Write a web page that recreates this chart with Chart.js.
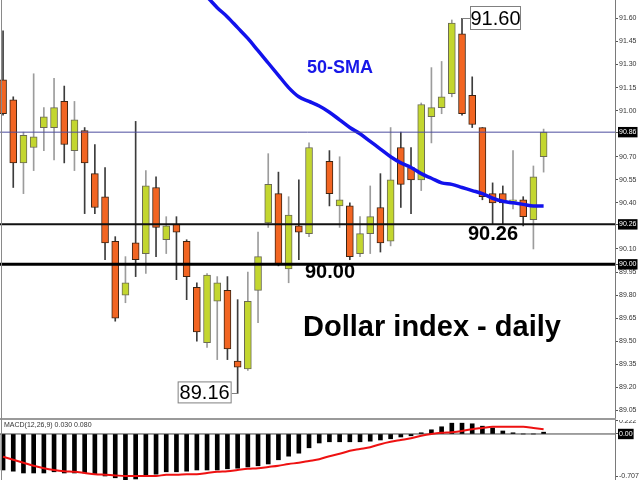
<!DOCTYPE html>
<html>
<head>
<meta charset="utf-8">
<script src="https://cdn.jsdelivr.net/npm/chart.js@4.4.1/dist/chart.umd.min.js"></script>
<style>
  html, body { margin: 0; padding: 0; background: #fff; }
  #wrap { position: relative; width: 640px; height: 480px; overflow: hidden; }
  #main { position: absolute; left: 0; top: 0; }
  #macd { position: absolute; left: 0; top: 420px; }
  #sep { position: absolute; left: 0; top: 418px; width: 616px; height: 2px; background: #9a9a9a; }
  #edge { position: absolute; left: 1px; top: 0; width: 1px; height: 480px; background: #8a8a8a; }
</style>
</head>
<body>
<div id="wrap">
  <canvas id="main" width="640" height="418"></canvas>
  <div id="sep"></div>
  <canvas id="macd" width="640" height="60"></canvas>
  <div id="edge"></div>
</div>
<script>
// daily candles, one slot per day (slot 31 has no bar)
const opens  = [91.20, 91.07, 90.66, 90.76, 90.89, 90.89, 91.06, 90.74, 90.87, 90.59, 90.44, 90.15, 89.80, 90.14, 90.07, 90.50, 90.16, 90.26, 90.15, 89.85, 89.49, 89.76, 89.83, 89.37, 89.32, 89.83, 90.27, 90.46, 89.97, 90.25, 90.20, null, 90.67, 90.38, 90.38, 90.07, 90.20, 90.37, 90.15, 90.76, 90.63, 90.55, 90.96, 91.02, 91.11, 91.50, 91.10, 90.89, 90.46, 90.46, 90.41, 90.42, 90.29, 90.70];
const highs  = [91.52, 91.09, 90.86, 91.24, 91.02, 91.21, 91.16, 91.06, 90.89, 90.78, 90.63, 90.18, 90.05, 90.93, 90.61, 90.57, 90.31, 90.31, 90.16, 89.88, 89.94, 89.92, 89.92, 89.77, 89.95, 90.21, 90.72, 90.60, 90.44, 90.55, 90.79, null, 90.74, 90.70, 90.40, 90.31, 90.51, 90.59, 90.89, 90.86, 90.76, 91.05, 91.28, 91.32, 91.59, 91.60, 91.22, 90.89, 90.53, 90.51, 90.74, 90.44, 90.64, 90.88];
const lows   = [90.97, 90.50, 90.46, 90.61, 90.74, 90.68, 90.66, 90.61, 90.33, 90.33, 90.03, 89.63, 89.75, 89.92, 89.94, 90.05, 90.07, 89.90, 89.77, 89.50, 89.46, 89.38, 89.38, 89.16, 89.31, 89.62, 90.24, 89.99, 89.88, 90.03, 90.18, null, 90.38, 90.24, 90.03, 90.05, 90.07, 90.08, 90.12, 90.37, 90.33, 90.48, 90.79, 90.98, 91.09, 90.97, 90.89, 90.42, 90.26, 90.26, 90.36, 90.25, 90.10, 90.60];
const closes = [90.98, 90.66, 90.84, 90.83, 90.96, 91.02, 90.78, 90.94, 90.66, 90.37, 90.14, 89.65, 89.88, 90.03, 90.51, 90.24, 90.25, 90.21, 89.92, 89.56, 89.93, 89.88, 89.45, 89.33, 89.76, 90.05, 90.52, 90.00, 90.32, 90.21, 90.76, null, 90.46, 90.42, 90.05, 90.20, 90.31, 90.14, 90.55, 90.52, 90.55, 91.04, 91.02, 91.09, 91.57, 90.98, 90.91, 90.44, 90.40, 90.40, 90.42, 90.31, 90.57, 90.86];

// 50-day SMA, starts above the visible range
const smaStart = 18;
const sma50 = [91.87, 91.80, 91.74, 91.67, 91.61, 91.54, 91.47, 91.39, 91.31, 91.23, 91.15, 91.09, 91.06, 91.03, 90.99, 90.94, 90.89, 90.85, 90.80, 90.75, 90.70, 90.66, 90.63, 90.59, 90.56, 90.53, 90.52, 90.50, 90.48, 90.46, 90.43, 90.41, 90.40, 90.39, 90.38, 90.38];

// MACD(12,26,9) pane
const macdHist   = [-0.60, -0.62, -0.65, -0.65, -0.65, -0.63, -0.65, -0.65, -0.65, -0.67, -0.70, -0.73, -0.77, -0.75, -0.70, -0.67, -0.63, -0.63, -0.62, -0.60, -0.60, -0.60, -0.58, -0.57, -0.55, -0.53, -0.50, -0.43, -0.37, -0.32, -0.23, -0.15, -0.13, -0.13, -0.13, -0.13, -0.12, -0.10, -0.08, -0.05, -0.03, 0.02, 0.07, 0.12, 0.18, 0.18, 0.17, 0.13, 0.10, 0.05, 0.02, 0.00, 0.00, 0.03];
const macdSignal = [-0.38, -0.43, -0.48, -0.53, -0.57, -0.60, -0.62, -0.63, -0.65, -0.67, -0.68, -0.69, -0.70, -0.70, -0.70, -0.70, -0.68, -0.68, -0.67, -0.67, -0.65, -0.63, -0.62, -0.60, -0.58, -0.57, -0.55, -0.53, -0.50, -0.48, -0.45, -0.42, -0.37, -0.33, -0.28, -0.25, -0.22, -0.17, -0.13, -0.10, -0.07, -0.03, 0.00, 0.02, 0.03, 0.05, 0.08, 0.10, 0.12, 0.12, 0.12, 0.12, 0.10, 0.08];

const priceTicks = [89.05, 89.20, 89.35, 89.50, 89.65, 89.80, 89.95, 90.00, 90.10, 90.26, 90.40, 90.55, 90.70, 90.86, 91.00, 91.15, 91.30, 91.45, 91.60];
const boxedTicks = [90.86, 90.26, 90.00];
const macdTicks = [0.222, 0, -0.707];
const macdTickLabels = ['0.222', '0.00', '-0.707'];

const UP = '#c3d62f', DOWN = '#f26522';
const xRange = { min: -0.3, max: 60.0 };
const axisFont = { family: '"Liberation Sans", Arial, sans-serif', size: 7 };

const candles = [];
opens.forEach((o, i) => { if (o != null) candles.push(i); });
const isUp = i => closes[i] >= opens[i];

const hline = v => [{ x: -1, y: v }, { x: 70, y: v }];
const isBoxed = v => boxedTicks.some(b => Math.abs(b - v) < 0.001);

function boxLabel(ctx, text, left, top, w, h) {
  ctx.fillStyle = '#fff';
  ctx.fillRect(left, top, w, h);
  ctx.strokeStyle = '#808080';
  ctx.lineWidth = 1;
  ctx.strokeRect(left + 0.5, top + 0.5, w - 1, h - 1);
  ctx.fillStyle = '#000';
  ctx.font = '20px "Liberation Sans", Arial, sans-serif';
  ctx.textAlign = 'center';
  ctx.textBaseline = 'middle';
  ctx.fillText(text, left + w / 2, top + h / 2 + 1);
}

const notes = {
  id: 'notes',
  afterDatasetsDraw(chart) {
    const { ctx, scales: { x, y } } = chart;
    ctx.save();
    ctx.textAlign = 'center';
    ctx.textBaseline = 'middle';

    ctx.fillStyle = '#1818e8';
    ctx.font = 'bold 18px "Liberation Sans", Arial, sans-serif';
    ctx.fillText('50-SMA', 340, 68);

    ctx.fillStyle = '#000';
    ctx.font = 'bold 20px "Liberation Sans", Arial, sans-serif';
    ctx.fillText('90.26', 493, y.getPixelForValue(90.26) + 10);
    ctx.fillText('90.00', 330, y.getPixelForValue(90.00) + 8);

    ctx.font = 'bold 29px "Liberation Sans", Arial, sans-serif';
    ctx.fillText('Dollar index - daily', 432, 328);

    // swing high / low callouts
    const xh = x.getPixelForValue(45), yh = y.getPixelForValue(highs[45]);
    ctx.strokeStyle = '#808080';
    ctx.lineWidth = 1;
    ctx.beginPath();
    ctx.moveTo(xh, Math.round(yh) + 0.5);
    ctx.lineTo(xh + 8, Math.round(yh) + 0.5);
    ctx.stroke();
    boxLabel(ctx, highs[45].toFixed(2), xh + 8, 6, 51, 24);

    const xl = x.getPixelForValue(23), yl = y.getPixelForValue(lows[23]);
    ctx.beginPath();
    ctx.moveTo(xl, Math.round(yl) + 0.5);
    ctx.lineTo(xl - 6, Math.round(yl) + 0.5);
    ctx.stroke();
    boxLabel(ctx, lows[23].toFixed(2), xl - 60, yl - 12, 54, 22);
    ctx.restore();
  }
};

const xScale = { type: 'linear', display: false, offset: false, bounds: 'ticks', min: xRange.min, max: xRange.max };

new Chart(document.getElementById('main'), {
  type: 'bar',
  data: {
    datasets: [
      { type: 'line', data: hline(90.86), borderColor: '#4d4d9e', borderWidth: 1, pointRadius: 0, order: 0 },
      { type: 'line', data: hline(90.26), borderColor: '#111', borderWidth: 2, pointRadius: 0, order: 0 },
      { type: 'line', data: hline(90.00), borderColor: '#000', borderWidth: 3, pointRadius: 0, order: 0 },
      {
        type: 'line',
        data: sma50.map((v, k) => ({ x: smaStart + k, y: v })),
        borderColor: '#1212ec', borderWidth: 3.5, pointRadius: 0,
        cubicInterpolationMode: 'monotone', order: 1
      },
      {
        data: candles.map(i => ({ x: i, y: [opens[i], closes[i]] })),
        backgroundColor: candles.map(i => isUp(i) ? UP : DOWN),
        borderColor: candles.map(i => isUp(i) ? '#6b6b55' : '#3b2414'),
        borderWidth: 1, borderSkipped: false, barThickness: 7, grouped: false, order: 2
      },
      {
        data: candles.map(i => ({ x: i, y: [lows[i], highs[i]] })),
        backgroundColor: candles.map(i => isUp(i) ? '#9c9c9c' : '#3c3c3c'),
        borderWidth: 0, barThickness: 1, grouped: false, order: 3
      }
    ]
  },
  options: {
    responsive: false,
    animation: false,
    layout: { padding: 0, autoPadding: false },
    plugins: { legend: { display: false }, tooltip: { enabled: false } },
    scales: {
      x: xScale,
      y: {
        position: 'right', min: 89.0, max: 91.72,
        afterFit: s => { s.width = 25; s.paddingTop = 0; s.paddingBottom = 0; },
        afterBuildTicks: s => { s.ticks = priceTicks.map(v => ({ value: v })); },
        border: { color: '#7a7a7a', width: 1 },
        grid: { drawOnChartArea: false, tickLength: 3, color: '#555' },
        ticks: {
          autoSkip: false, padding: 1, font: axisFont,
          callback: v => v.toFixed(2),
          color: c => isBoxed(c.tick.value) ? '#fff' : '#333',
          showLabelBackdrop: c => isBoxed(c.tick.value),
          backdropColor: '#000',
          backdropPadding: { x: 1, y: 1 }
        }
      }
    }
  },
  plugins: [notes]
});

const macdNote = {
  id: 'macdNote',
  afterDatasetsDraw(chart) {
    const { ctx } = chart;
    ctx.save();
    ctx.fillStyle = '#333';
    ctx.font = '7px "Liberation Sans", Arial, sans-serif';
    ctx.textBaseline = 'middle';
    ctx.fillText('MACD(12,26,9) 0.030 0.080', 4, 5);
    ctx.restore();
  }
};

new Chart(document.getElementById('macd'), {
  type: 'bar',
  data: {
    datasets: [
      { type: 'line', data: hline(0), borderColor: '#444', borderWidth: 1, pointRadius: 0, order: 2 },
      {
        type: 'line', data: macdSignal.map((v, i) => ({ x: i, y: v })),
        borderColor: '#ee1111', borderWidth: 2, pointRadius: 0,
        cubicInterpolationMode: 'monotone', order: 0
      },
      {
        data: macdHist.map((v, i) => ({ x: i, y: v })),
        backgroundColor: '#000', barThickness: 4, grouped: false, order: 1
      }
    ]
  },
  options: {
    responsive: false,
    animation: false,
    layout: { padding: 0, autoPadding: false },
    plugins: { legend: { display: false }, tooltip: { enabled: false } },
    scales: {
      x: xScale,
      y: {
        position: 'right', min: -0.767, max: 0.233,
        afterFit: s => { s.width = 25; s.paddingTop = 0; s.paddingBottom = 0; },
        afterBuildTicks: s => { s.ticks = macdTicks.map(v => ({ value: v })); },
        border: { color: '#7a7a7a', width: 1 },
        grid: { drawOnChartArea: false, tickLength: 3, color: '#555' },
        ticks: {
          autoSkip: false, padding: 1, font: axisFont,
          callback: (v, i) => macdTickLabels[i],
          color: c => c.tick.value === 0 ? '#fff' : '#333',
          showLabelBackdrop: c => c.tick.value === 0,
          backdropColor: '#000',
          backdropPadding: { x: 1, y: 1 }
        }
      }
    }
  },
  plugins: [macdNote]
});
</script>
</body>
</html>
